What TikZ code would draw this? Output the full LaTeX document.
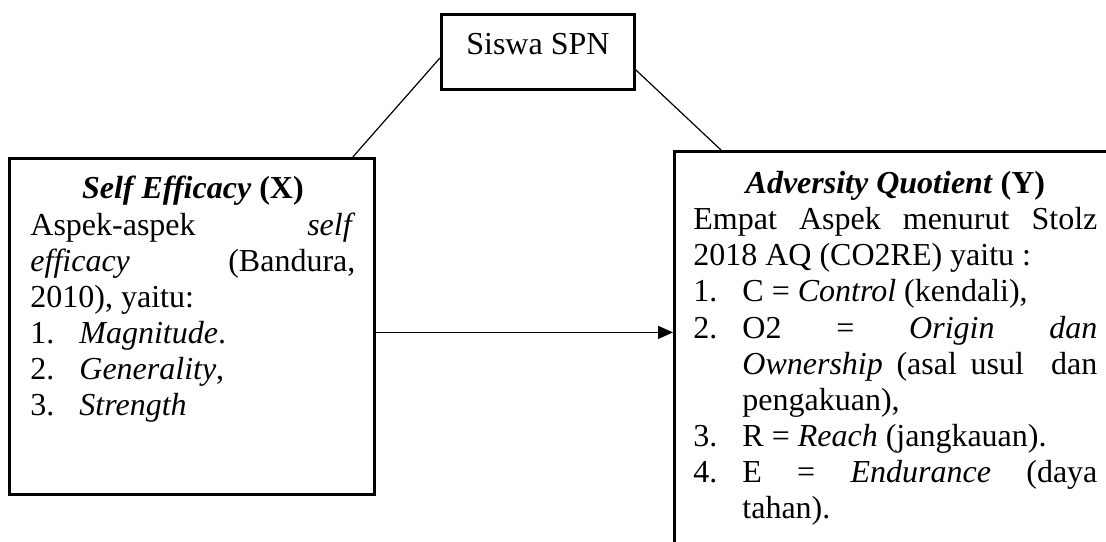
\documentclass[tikz,border=0pt]{standalone}
\usepackage{fontspec}
\setmainfont{Liberation Serif}
\usepackage{enumitem}
\usetikzlibrary{arrows.meta, positioning, calc}

\setlist[enumerate]{label=\arabic*., leftmargin=24.5pt, labelsep=*, align=left,
  itemsep=0pt, topsep=0pt, parsep=0pt, partopsep=0pt}
\newcommand{\boxfont}{\fontsize{16}{18.05}\selectfont\normalbaselineskip=18.05pt}

\begin{document}
\boxfont
\begin{tikzpicture}[
  x=0.5pt, y=-0.5pt,
  font=\boxfont,
  box/.style={draw, line width=1.4pt, inner sep=0pt},
  boxtext/.style={inner sep=0pt, anchor=north west, align=justify},
  link/.style={line width=0.6pt},
  >={Triangle[length=7.5pt, width=6.5pt]}
]
  \useasboundingbox (0,0) rectangle (1106,541);
  \clip (0,0) rectangle (1106,541);

  % boxes
  \node[box, minimum width=96.5pt, text height=20pt, text depth=17.5pt,
        anchor=north west] (spn) at (440,13) {Siswa SPN};
  \node[box, minimum width=182.5pt, minimum height=168pt,
        anchor=north west] (se) at (8,157) {};
  \node[box, overlay, minimum width=300pt, minimum height=300pt,
        anchor=north west] (aq) at (673,150) {};

  % box contents
  \node[boxtext, text width=162.5pt] (setext) at (30,176) {\boxfont
    {\centering\textbf{\textit{Self Efficacy}} \textbf{(X)}\par}
    Aspek-aspek \textit{self}\linebreak
    \textit{efficacy} (Bandura,\linebreak
    2010), yaitu:
    \begin{enumerate}
      \item \textit{Magnitude}.
      \item \textit{Generality},
      \item \textit{Strength}\par
    \end{enumerate}\par};
  \node[boxtext, text width=202pt] (aqtext) at (693,171) {\boxfont
    {\centering\textbf{\textit{Adversity Quotient}} \textbf{(Y)}\par}
    Empat Aspek menurut Stolz\linebreak
    2018 AQ (CO2RE) yaitu :
    \begin{enumerate}
      \item C = \textit{Control} (kendali),
      \item O2 = \textit{Origin dan}\linebreak
        \textit{Ownership} (asal usul\ \ dan\linebreak
        pengakuan),
      \item R = \textit{Reach} (jangkauan).
      \item E = \textit{Endurance} (daya\linebreak
        tahan).\par
    \end{enumerate}\par};

  % connectors
  \draw[link] ([shift={(0,6)}]spn.west) -- ([shift={(-23,0)}]se.north east);
  \draw[link] ([shift={(0,18)}]spn.east) -- ([shift={(48,0)}]aq.north west);
  \draw[link, ->] ([shift={(0,6)}]se.east) -- ([shift={(0,6)}]se.east -| aq.west);
\end{tikzpicture}
\end{document}
